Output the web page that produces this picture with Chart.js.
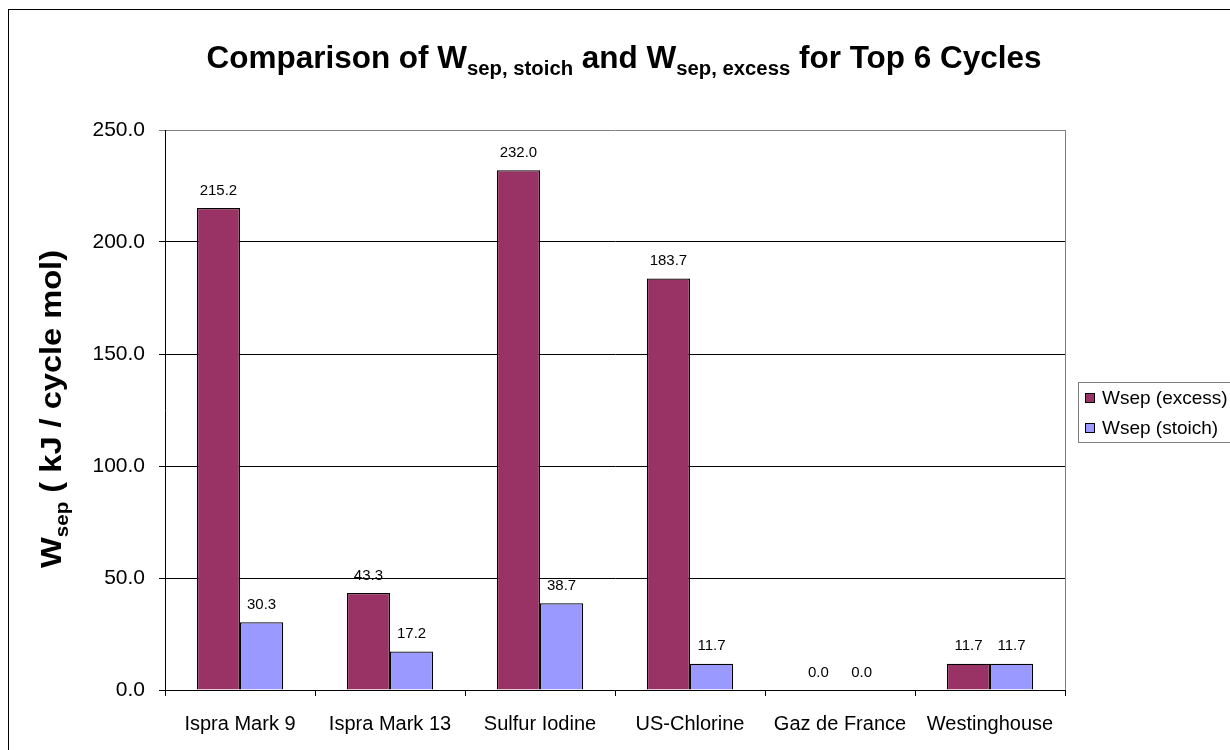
<!DOCTYPE html>
<html>
<head>
<meta charset="utf-8">
<script src="https://cdn.jsdelivr.net/npm/chart.js@4.4.0/dist/chart.umd.min.js"></script>
<style>
  html, body { margin: 0; padding: 0; background: #fff; }
  #wrap { position: relative; width: 1230px; height: 750px; }
</style>
</head>
<body>
<div id="wrap"><canvas id="sepChart" width="1230" height="750"></canvas></div>
<script>
const cycles = ['Ispra Mark 9', 'Ispra Mark 13', 'Sulfur Iodine', 'US-Chlorine', 'Gaz de France', 'Westinghouse'];
const wsepExcess = [215.2, 43.3, 232.0, 183.7, 0.0, 11.7];
const wsepStoich = [30.3, 17.2, 38.7, 11.7, 0.0, 11.7];
const seriesNames = ['Wsep (excess)', 'Wsep (stoich)'];
const seriesColors = ['#993366', '#9999FF'];
const yMax = 250;
const yStep = 50;

const FONT = 'Arial, "Liberation Sans", sans-serif';

// writes a run of [text, isSub] pieces starting at x, baseline y
function drawRuns(ctx, runs, x, y, size, subSize) {
    runs.forEach(([txt, sub]) => {
        ctx.font = 'bold ' + (sub ? subSize : size) + 'px ' + FONT;
        ctx.fillText(txt, x, sub ? y + size * 0.22 : y);
        x += ctx.measureText(txt).width;
    });
}
function runsWidth(ctx, runs, size, subSize) {
    let w = 0;
    runs.forEach(([txt, sub]) => {
        ctx.font = 'bold ' + (sub ? subSize : size) + 'px ' + FONT;
        w += ctx.measureText(txt).width;
    });
    return w;
}
// centred mixed-size text stretched along its run to a given length
function drawFitted(ctx, runs, size, subSize, length) {
    const w = runsWidth(ctx, runs, size, subSize);
    ctx.scale(length / w, 1);
    drawRuns(ctx, runs, -w / 2, 0, size, subSize);
}

const decorPlugin = {
    id: 'decor',
    beforeDraw(chart) {
        const ctx = chart.ctx;
        ctx.save();
        ctx.fillStyle = '#fff';
        ctx.fillRect(0, 0, chart.width, chart.height);
        // outer frame
        ctx.strokeStyle = '#000';
        ctx.lineWidth = 1;
        ctx.strokeRect(8.5, 9.5, chart.width + 10, chart.height + 10);
        ctx.restore();
    },
    afterDraw(chart) {
        const ctx = chart.ctx;
        const a = chart.chartArea;
        ctx.save();
        // plot area right edge
        ctx.strokeStyle = '#808080';
        ctx.beginPath();
        ctx.moveTo(Math.round(a.right) + 0.5, a.top);
        ctx.lineTo(Math.round(a.right) + 0.5, a.bottom);
        ctx.stroke();
        ctx.restore();

        // title
        ctx.save();
        ctx.fillStyle = '#000';
        ctx.textBaseline = 'alphabetic';
        ctx.translate(624, 68);
        drawFitted(ctx, [['Comparison of W', false], ['sep, stoich', true], [' and W', false], ['sep, excess', true], [' for Top 6 Cycles', false]], 31, 20, 835);
        ctx.restore();

        // y axis title
        ctx.save();
        ctx.fillStyle = '#000';
        ctx.translate(61, 409);
        ctx.rotate(-Math.PI / 2);
        drawFitted(ctx, [['W', false], ['sep', true], [' ( kJ / cycle mol)', false]], 30, 19, 318);
        ctx.restore();

        // legend
        ctx.save();
        ctx.strokeStyle = '#808080';
        ctx.strokeRect(1078.5, 382.5, 160, 60);
        ctx.font = '19px ' + FONT;
        ctx.textBaseline = 'middle';
        seriesNames.forEach((name, i) => {
            const cy = 398 + i * 30;
            ctx.fillStyle = seriesColors[i];
            ctx.fillRect(1085, cy - 5, 10, 10);
            ctx.strokeStyle = '#000';
            ctx.strokeRect(1085.5, cy - 4.5, 9, 9);
            ctx.fillStyle = '#000';
            ctx.fillText(name, 1102, cy + 1);
        });
        ctx.restore();
    },
    afterDatasetsDraw(chart) {
        const ctx = chart.ctx;
        ctx.save();
        ctx.font = '15px ' + FONT;
        ctx.fillStyle = '#000';
        ctx.textAlign = 'center';
        ctx.textBaseline = 'bottom';
        chart.data.datasets.forEach((ds, di) => {
            chart.getDatasetMeta(di).data.forEach((bar, i) => {
                ctx.fillText(ds.data[i].toFixed(1), bar.x, bar.y - 10);
            });
        });
        ctx.restore();
    }
};

new Chart(document.getElementById('sepChart'), {
    type: 'bar',
    data: {
        labels: cycles,
        datasets: [
            { label: seriesNames[0], data: wsepExcess, backgroundColor: seriesColors[0], borderColor: '#000', borderWidth: 1.3 },
            { label: seriesNames[1], data: wsepStoich, backgroundColor: seriesColors[1], borderColor: '#000', borderWidth: 1.3 }
        ]
    },
    options: {
        responsive: false,
        animation: false,
        layout: { padding: { top: 130, right: 165, left: 0, bottom: 0 } },
        datasets: { bar: { categoryPercentage: 0.575, barPercentage: 1 } },
        plugins: { legend: { display: false }, tooltip: { enabled: false } },
        scales: {
            x: {
                grid: { offset: true, drawOnChartArea: false, color: '#000', tickLength: 6 },
                border: { color: '#000' },
                ticks: { color: '#000', font: { family: FONT, size: 20 }, padding: 16, maxRotation: 0 },
                afterFit(axis) { axis.height = 60; }
            },
            y: {
                min: 0,
                max: yMax,
                grid: { color: c => c.tick && c.tick.value === yMax ? '#808080' : '#000', tickLength: 6 },
                border: { color: '#000' },
                ticks: { stepSize: yStep, color: '#000', font: { family: FONT, size: 21 }, padding: 14, callback: v => v.toFixed(1) },
                afterFit(axis) { axis.width = 165; }
            }
        }
    },
    plugins: [decorPlugin]
});
</script>
</body>
</html>
